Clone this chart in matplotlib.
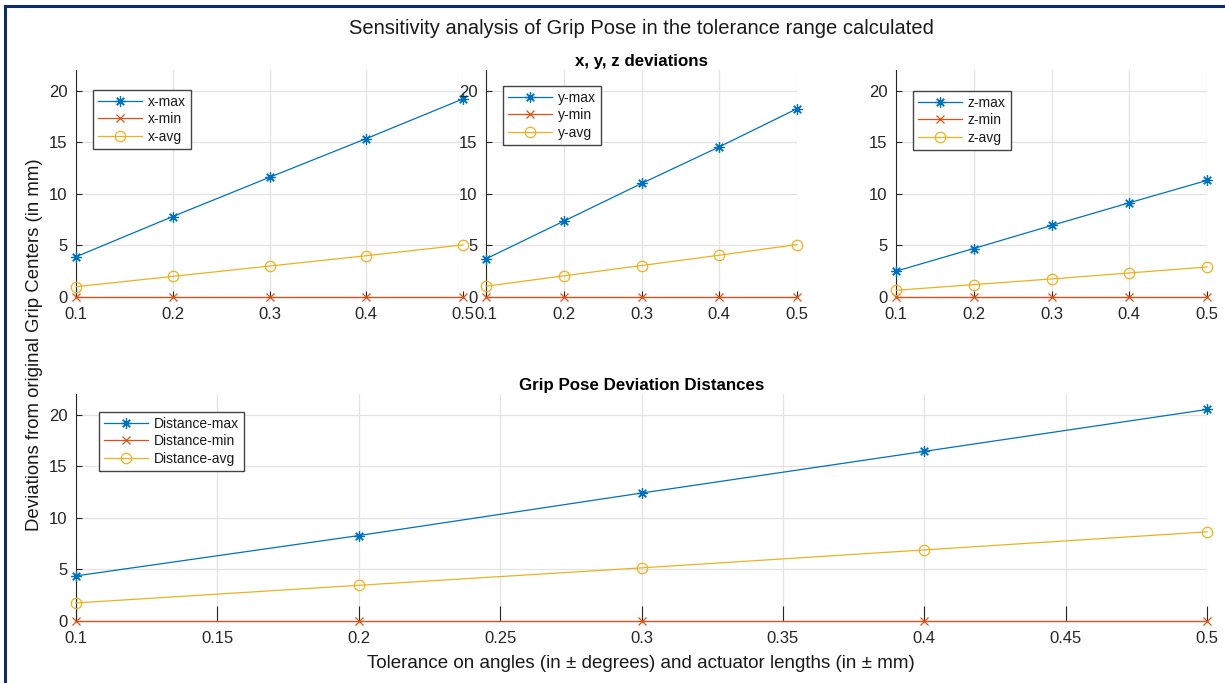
import matplotlib
matplotlib.use("Agg")
import matplotlib.pyplot as plt
from matplotlib.lines import Line2D

plt.rcParams['font.family'] = ['Liberation Sans', 'DejaVu Sans']

# Tolerance levels
tolerance = [0.1, 0.2, 0.3, 0.4, 0.5]

# Per-axis deviations (mm)
x_max = [3.9, 7.8, 11.6, 15.35, 19.2]
x_min = [0, 0, 0, 0, 0]
x_avg = [1.0, 2.0, 3.0, 4.0, 5.05]

y_max = [3.7, 7.35, 11.0, 14.55, 18.25]
y_min = [0, 0, 0, 0, 0]
y_avg = [1.05, 2.05, 3.05, 4.05, 5.08]

z_max = [2.5, 4.7, 6.93, 9.13, 11.3]
z_min = [0, 0, 0, 0, 0]
z_avg = [0.65, 1.2, 1.75, 2.33, 2.91]

# Euclidean distance deviations (mm)
dist_max = [4.37, 8.28, 12.4, 16.44, 20.5]
dist_min = [0, 0, 0, 0, 0]
dist_avg = [1.75, 3.46, 5.15, 6.89, 8.64]

top_xticks = [0.1, 0.2, 0.3, 0.4, 0.5]
bottom_xticks = [0.1, 0.15, 0.2, 0.25, 0.3, 0.35, 0.4, 0.45, 0.5]
yticks = [0, 5, 10, 15, 20]

C_BLUE = '#0072BD'
C_RED = '#D95319'
C_YEL = '#EDB120'
AX_COL = '#262626'
ASTERISK = (8, 2, 0)

W, H = 1225, 683
fig = plt.figure(figsize=(W / 100, H / 100), dpi=100)
fig.patch.set_facecolor('white')


def px_axes(x0, x1, y0, y1):
    return fig.add_axes([x0 / W, 1 - y1 / H, (x1 - x0) / W, (y1 - y0) / H])


def style(ax, xticks, tick_len_x):
    ax.set_xlim(0.1, 0.5)
    ax.set_ylim(0, 22)
    ax.set_xticks(xticks)
    ax.set_xticklabels([f"{v:g}" for v in xticks])
    ax.set_yticks(yticks)
    ax.grid(True, color='#e3e3e3', linewidth=0.9)
    ax.set_axisbelow(True)
    for s in ('top', 'right'):
        ax.spines[s].set_visible(False)
    for s in ('left', 'bottom'):
        ax.spines[s].set_color(AX_COL)
        ax.spines[s].set_linewidth(0.8)
    ax.tick_params(axis='x', direction='in', length=tick_len_x, width=0.8,
                   color=AX_COL, labelsize=12, labelcolor=AX_COL, pad=7)
    ax.tick_params(axis='y', direction='in', length=4, width=0.8,
                   color=AX_COL, labelsize=12, labelcolor=AX_COL, pad=6)


def series(ax, xs, vmax, vmin, vavg, labels, anchor):
    ax.plot(xs, vmax, color=C_BLUE, lw=0.9, marker=ASTERISK, ms=7.5, mew=0.9,
            label=labels[0], clip_on=False, zorder=3)
    ax.plot(xs, vmin, color=C_RED, lw=0.9, marker='x', ms=6, mew=0.9,
            label=labels[1], clip_on=False, zorder=3)
    ax.plot(xs, vavg, color=C_YEL, lw=0.9, marker='o', ms=7.5, mfc='none',
            mew=0.9, label=labels[2], clip_on=False, zorder=3)
    leg = ax.legend(loc='upper left', bbox_to_anchor=anchor, borderaxespad=0,
                    fancybox=False, framealpha=1, edgecolor='#444444',
                    fontsize=10, handlelength=3.2, handletextpad=0.4,
                    labelspacing=0.25, borderpad=0.35)
    leg.get_frame().set_linewidth(1.0)
    for t in leg.get_texts():
        t.set_color('#1a1a1a')


ax1 = px_axes(76, 463, 70, 297)
style(ax1, top_xticks, 4)
series(ax1, tolerance, x_max, x_min, x_avg, ['x-max', 'x-min', 'x-avg'],
       (17 / 387, 1 - 20 / 227))

ax2 = px_axes(486, 797, 70, 297)
style(ax2, top_xticks, 4)
series(ax2, tolerance, y_max, y_min, y_avg, ['y-max', 'y-min', 'y-avg'],
       (17 / 311, 1 - 16 / 227))
ax2.set_title('x, y, z deviations', fontsize=12.2, fontweight='bold',
              color='black', pad=3)

ax3 = px_axes(896, 1207, 70, 297)
style(ax3, top_xticks, 4)
series(ax3, tolerance, z_max, z_min, z_avg, ['z-max', 'z-min', 'z-avg'],
       (17 / 311, 1 - 21 / 227))

ax4 = px_axes(76, 1207, 394, 621)
style(ax4, bottom_xticks, 11)
series(ax4, tolerance, dist_max, dist_min, dist_avg,
       ['Distance-max', 'Distance-min', 'Distance-avg'],
       (23 / 1131, 1 - 18 / 227))
ax4.set_title('Grip Pose Deviation Distances', fontsize=12.2, fontweight='bold',
              color='black', pad=3)

fig.text(641 / W, 1 - 29 / H,
         'Sensitivity analysis of Grip Pose in the tolerance range calculated',
         ha='center', va='center', fontsize=14.5, color='#1a1a1a')
fig.text(35 / W, 1 - 345 / H, 'Deviations from original Grip Centers (in mm)',
         ha='center', va='center', rotation=90, fontsize=13.4, color='#1a1a1a')
fig.text(641 / W, 1 - 664 / H,
         'Tolerance on angles (in \u00b1 degrees) and actuator lengths (in \u00b1 mm)',
         ha='center', va='center', fontsize=13.5, color='#1a1a1a')

# Outer frame (top and left edges)
frame_col = '#0d2a6b'
fig.add_artist(Line2D([5 / W, 1], [1 - 6 / H, 1 - 6 / H], color=frame_col,
                      lw=2.2, transform=fig.transFigure))
fig.add_artist(Line2D([5 / W, 5 / W], [0, 1 - 6 / H], color=frame_col,
                      lw=2.2, transform=fig.transFigure))

fig.savefig('out.png', dpi=100)
